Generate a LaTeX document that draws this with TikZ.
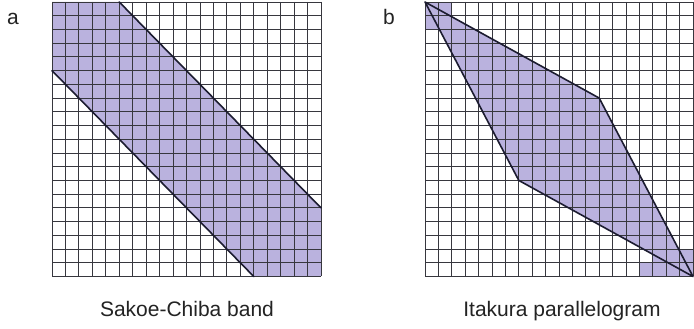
\documentclass[tikz,border=0pt]{standalone}
\usepackage{fontspec}
\setmainfont{Liberation Sans}
\definecolor{band}{RGB}{186,178,222}
\definecolor{gridc}{RGB}{55,55,62}
\definecolor{edge}{RGB}{28,28,48}
\definecolor{txt}{RGB}{35,35,35}
\begin{document}
\begin{tikzpicture}[x=1pt,y=1pt,
  gridline/.style={draw=gridc, line width=0.9pt},
  bound/.style={draw=edge, line width=1.6pt, line cap=round, line join=round},
  shadefill/.style={fill=band},
  lbl/.style={font=\fontsize{21}{25}\selectfont, text=txt, inner sep=0pt, anchor=base west},
  captext/.style={font=\fontsize{21}{25}\selectfont, text=txt, inner sep=0pt, anchor=base}]
\useasboundingbox (0,0) rectangle (694,329);
\fill[white] (0,0) rectangle (694,329);

% panel a : Sakoe-Chiba band
\begin{scope}[shift={(52pt,327pt)}, x=13.45pt, y=-13.725pt]
  \coordinate (a1) at (5,0);
  \coordinate (a2) at (20,15);
  \coordinate (a3) at (0,5);
  \coordinate (a4) at (15,20);
  \fill[shadefill] (0,0) -- (a1) -- (a2) -- (20,20) -- (a4) -- (a3) -- cycle;
  \foreach \i in {0,...,20} {
    \draw[gridline] (\i,0) -- (\i,20);
    \draw[gridline] (0,\i) -- (20,\i);
  }
  \draw[bound] (a1) -- (a2);
  \draw[bound] (a3) -- (a4);
\end{scope}

% panel b : Itakura parallelogram
\begin{scope}[shift={(425pt,327pt)}, x=13.4pt, y=-13.725pt]
  \coordinate (b1) at (0,0);
  \coordinate (b2) at (13,7);
  \coordinate (b3) at (20,20);
  \coordinate (b4) at (7,13);
  \fill[shadefill] (0,0) rectangle (2,2);
  \fill[shadefill] (18,18) rectangle (20,20);
  \fill[shadefill] (16,19) rectangle (18,20);
  \fill[shadefill] (17,18) rectangle (18,19);
  \fill[shadefill] (b1) -- (b2) -- (b3) -- (b4) -- cycle;
  \foreach \i in {0,...,20} {
    \draw[gridline] (\i,0) -- (\i,20);
    \draw[gridline] (0,\i) -- (20,\i);
  }
  \draw[bound] (b1) -- (b2) -- (b3) -- (b4) -- cycle;
\end{scope}

\node[lbl] (la) at (7,304) {a};
\node[lbl] (lb) at (383,304) {b};
\node[captext] (ca) at (187,12) {Sakoe-Chiba band};
\node[captext] (cb) at (562,12) {Itakura parallelogram};
\end{tikzpicture}
\end{document}
